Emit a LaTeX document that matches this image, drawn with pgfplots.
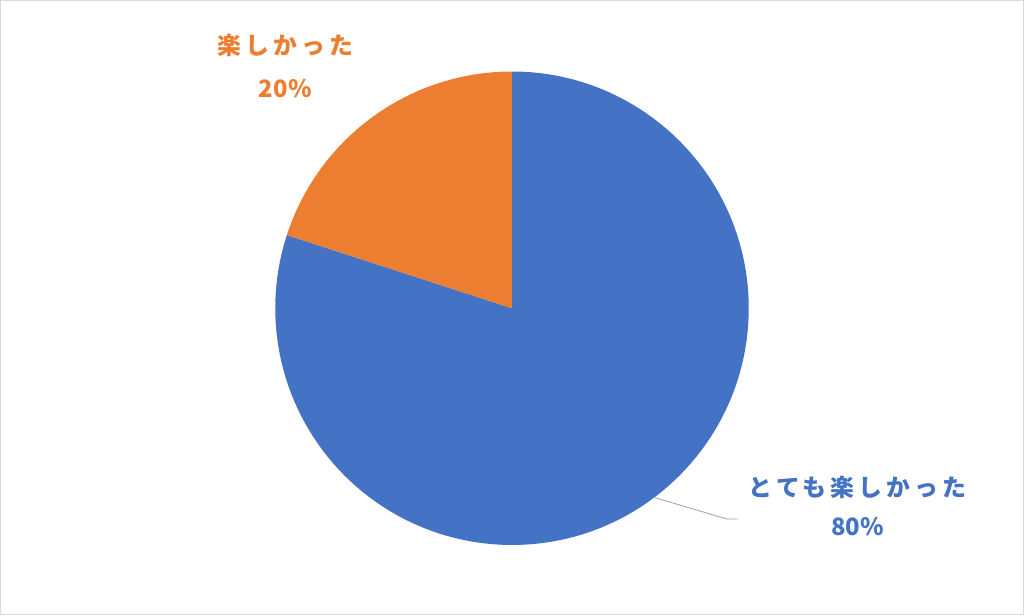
\documentclass[border=0pt]{standalone}
\usepackage{pgfplots}
\usepackage{pgfplotstable}
\usepackage{fontspec}
\pgfplotsset{compat=1.18}
\setmainfont{Noto Sans}
\newfontfamily\cjk{Noto Sans CJK JP}[LetterSpace=17]
\newfontfamily\num{Noto Sans CJK JP}
\definecolor{pieblue}{HTML}{4472C4}
\definecolor{pieorange}{HTML}{ED7D31}
\definecolor{frame}{HTML}{D9D9D9}

% share of answers, in percent
\pgfplotstableread{
value
80
20
}\piedata

\begin{document}
\begin{tikzpicture}
\pgfplotstablegetelem{0}{value}\of\piedata \let\va\pgfplotsretval
\pgfplotstablegetelem{1}{value}\of\piedata \let\vb\pgfplotsretval
\pgfmathsetmacro\aone{90-3.6*\va}
\pgfmathsetmacro\atwo{\aone-3.6*\vb}
\begin{axis}[
  width=1024bp, height=615bp, scale only axis,
  xmin=0, xmax=1024, ymin=0, ymax=615,
  axis line style={frame, line width=1.2pt},
  ticks=none,
  clip=false,
]
  % slices, clockwise from the top
  \fill[pieblue] (axis cs:512,307) -- ++(90:237bp)
    arc[start angle=90, end angle=\aone, radius=237bp] -- cycle;
  \fill[pieorange] (axis cs:512,307) -- ++(\aone:237bp)
    arc[start angle=\aone, end angle=\atwo, radius=237bp] -- cycle;

  % leader line
  \draw[gray!75, line width=0.8pt] (axis cs:653,118) -- (axis cs:727,96) -- (axis cs:738,96);

  % labels
  \node[text=pieorange, font=\cjk\bfseries\fontsize{24}{28}\selectfont] at (axis cs:285,570) {楽しかった};
  \node[text=pieorange, font=\num\bfseries\fontsize{24}{28}\selectfont] at (axis cs:285,527) {\vb\%};
  \node[text=pieblue, font=\cjk\bfseries\fontsize{24}{28}\selectfont] at (axis cs:858,128) {とても楽しかった};
  \node[text=pieblue, font=\num\bfseries\fontsize{24}{28}\selectfont] at (axis cs:858,88) {\va\%};
\end{axis}
\end{tikzpicture}
\end{document}
